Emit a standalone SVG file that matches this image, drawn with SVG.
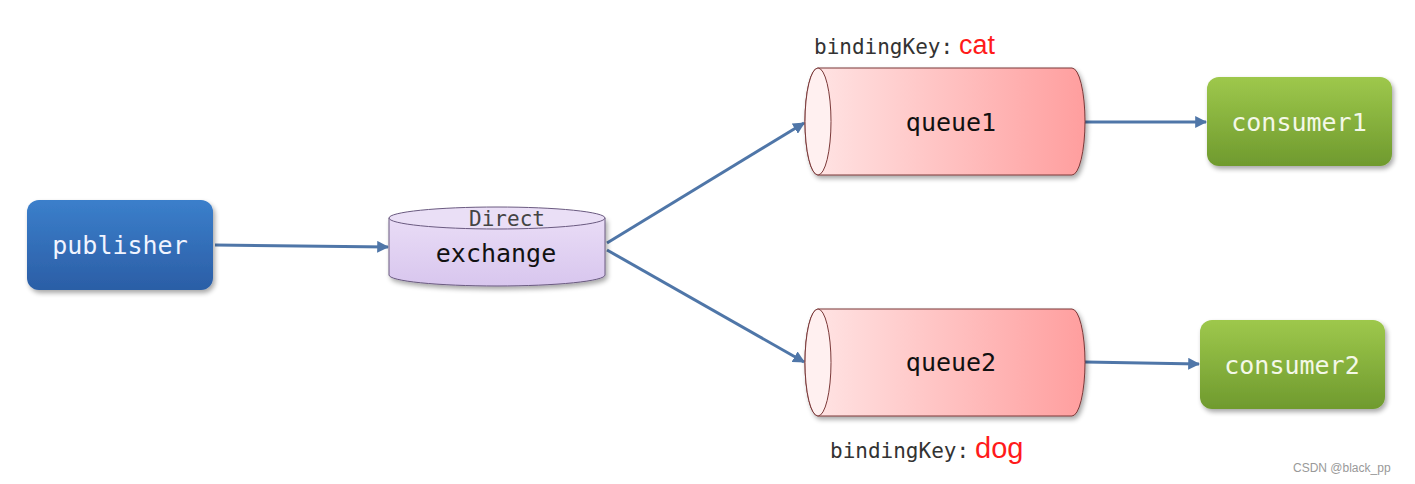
<svg xmlns="http://www.w3.org/2000/svg" width="1415" height="484" viewBox="0 0 1415 484">
<style>
.mono{font-family:"DejaVu Sans Mono","Liberation Mono",monospace}
.lbl{font-size:25px;text-anchor:middle;dominant-baseline:central}
.wt{fill:#f4f8e8}
.conn{stroke:#4f76a8;stroke-width:3;fill:none;marker-end:url(#ah)}
.bk{font-size:21px;fill:#333}
.red{font-family:"Liberation Sans",Arial,sans-serif;fill:#ff1a1a}
</style>
<defs>
<linearGradient id="gBlue" x1="0" y1="0" x2="0" y2="1"><stop offset="0" stop-color="#3b7fcb"/><stop offset="1" stop-color="#2b5ea6"/></linearGradient>
<linearGradient id="gGreen" x1="0" y1="0" x2="0" y2="1"><stop offset="0" stop-color="#9ec84c"/><stop offset="1" stop-color="#6f9a2e"/></linearGradient>
<linearGradient id="gPurple" x1="0" y1="0" x2="0" y2="1"><stop offset="0" stop-color="#e9dcf6"/><stop offset="1" stop-color="#d8c6ee"/></linearGradient>
<linearGradient id="gRed" x1="0" y1="0" x2="1" y2="0"><stop offset="0" stop-color="#ffe6e6"/><stop offset="1" stop-color="#ff9e9e"/></linearGradient>
<filter id="sh" x="-10%" y="-10%" width="125%" height="130%"><feGaussianBlur in="SourceAlpha" stdDeviation="2.5"/><feOffset dx="2" dy="3"/><feComponentTransfer><feFuncA type="linear" slope="0.35"/></feComponentTransfer><feMerge><feMergeNode/><feMergeNode in="SourceGraphic"/></feMerge></filter>
<marker id="ah" viewBox="0 0 10 10" refX="9" refY="5" markerWidth="4" markerHeight="4" orient="auto" markerUnits="strokeWidth"><path d="M0,0 L10,5 L0,10 z" fill="#4f76a8"/></marker>
</defs>

<g id="connectors">
<path class="conn" d="M215,245 L388,247"/>
<path class="conn" d="M607,243 L804,123"/>
<path class="conn" d="M607,250 L804,362"/>
<path class="conn" d="M1085,122 L1206,122"/>
<path class="conn" d="M1085,362 L1199,364"/>
</g>

<g id="publisher">
<rect x="27" y="200" width="186" height="90" rx="12" fill="url(#gBlue)" filter="url(#sh)"/>
<text class="mono lbl" x="120" y="245" fill="#f0f4ff">publisher</text>
</g>

<g id="exchange">
<path d="M389,218 L389,275 A108,11 0 0 0 605,275 L605,218 Z" fill="url(#gPurple)" stroke="#6a5a80" stroke-width="1" filter="url(#sh)"/>
<ellipse cx="497" cy="218" rx="108" ry="11" fill="#eadff6" stroke="#6a5a80" stroke-width="1"/>
<text class="mono" x="507" y="226" font-size="21" text-anchor="middle" fill="#444">Direct</text>
<text class="mono lbl" x="496" y="253" fill="#111">exchange</text>
</g>

<g id="queue1">
<path d="M818,68 L1072,68 A13,53.5 0 0 1 1072,175 L818,175 A13,53.5 0 0 1 818,68 Z" fill="url(#gRed)" stroke="#7a3838" stroke-width="1" filter="url(#sh)"/>
<ellipse cx="818" cy="121.5" rx="13" ry="53.5" fill="#fff0f0" stroke="#7a3838" stroke-width="1"/>
<text class="mono lbl" x="951" y="122" fill="#111">queue1</text>
</g>

<g id="queue2">
<path d="M818,309 L1072,309 A13,53.5 0 0 1 1072,416 L818,416 A13,53.5 0 0 1 818,309 Z" fill="url(#gRed)" stroke="#7a3838" stroke-width="1" filter="url(#sh)"/>
<ellipse cx="818" cy="362.5" rx="13" ry="53.5" fill="#fff0f0" stroke="#7a3838" stroke-width="1"/>
<text class="mono lbl" x="951" y="362" fill="#111">queue2</text>
</g>

<g id="consumer1">
<rect x="1207" y="77" width="185" height="89" rx="12" fill="url(#gGreen)" filter="url(#sh)"/>
<text class="mono lbl wt" x="1299" y="122">consumer1</text>
</g>

<g id="consumer2">
<rect x="1200" y="320" width="185" height="89" rx="12" fill="url(#gGreen)" filter="url(#sh)"/>
<text class="mono lbl wt" x="1292" y="365">consumer2</text>
</g>

<g id="label-cat">
<text x="814" y="54"><tspan class="mono bk">bindingKey:</tspan><tspan class="red" font-size="27" dx="6">cat</tspan></text>
</g>
<g id="label-dog">
<text x="830" y="458"><tspan class="mono bk">bindingKey:</tspan><tspan class="red" font-size="29" dx="6">dog</tspan></text>
</g>

<text x="1293" y="472" font-family="Liberation Sans,Arial,sans-serif" font-size="12" fill="#999">CSDN @black_pp</text>
</svg>
